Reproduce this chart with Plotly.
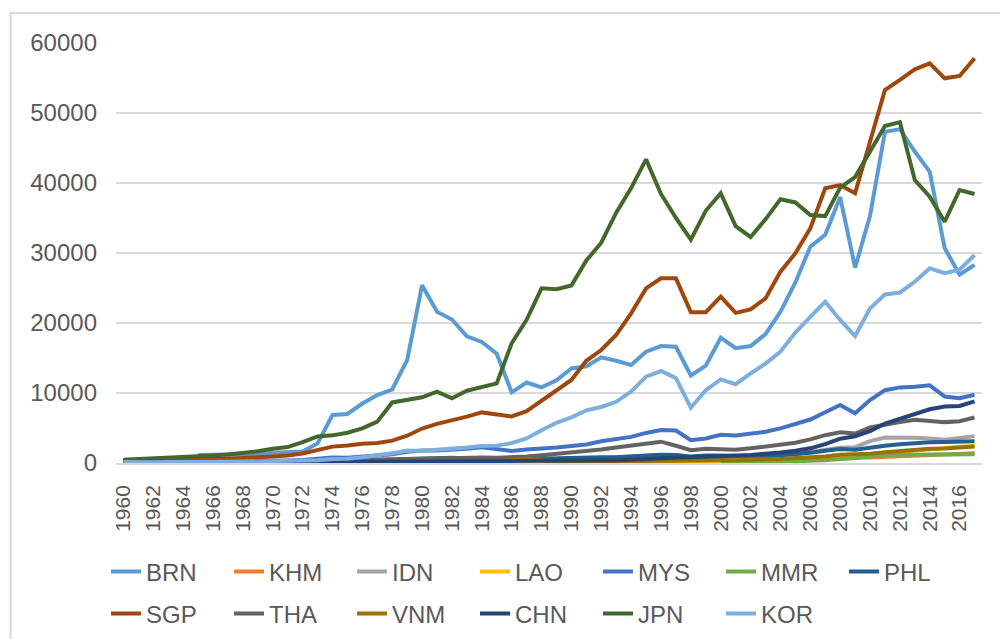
import plotly.graph_objects as go

years = [str(y) for y in range(1960, 2018)]
tick_years = [str(y) for y in range(1960, 2017, 2)]

N = None
BRN = [N, N, N, N, N, 1137, 1175, 1220, 1260, 1290,
       1470, 1630, 1650, 2800, 6860, 7000, 8500, 9700, 10500, 14700,
       25400, 21600, 20500, 18100, 17300, 15600, 10100, 11500, 10800, 11800,
       13500, 13800, 15100, 14600, 14000, 15900, 16700, 16600, 12500, 13900,
       17900, 16400, 16700, 18400, 21600, 25800, 30900, 32600, 38000, 27900,
       35300, 47300, 47700, 44500, 41600, 30700, 26900, 28300]
KHM = [111, 117, 120, 130, 129, 137, 142, 147, 155, 121,
       114, N, N, N, N, N, N, N, N, N,
       N, N, N, N, N, N, N, N, N, N,
       N, N, N, 249, 267, 321, 315, 300, 268, 296,
       301, 316, 330, 353, 400, 471, 537, 627, 744, 733,
       782, 880, 945, 1013, 1093, 1163, 1270, 1385]
IDN = [N, N, N, N, N, N, N, 54, 65, 80,
       80, 79, 91, 128, 189, 221, 258, 300, 329, 350,
       491, 568, 582, 513, 524, 517, 477, 445, 492, 554,
       585, 632, 676, 822, 906, 1026, 1137, 1063, 463, 671,
       780, 748, 900, 1065, 1150, 1263, 1590, 1861, 2167, 2262,
       3122, 3643, 3694, 3623, 3492, 3332, 3563, 3837]
LAO = [N, N, N, N, N, N, N, N, N, N,
       N, N, N, N, N, N, N, N, N, N,
       N, N, N, N, 614, 630, 400, 340, 195, 209,
       203, 233, 250, 289, 323, 370, 393, 353, 259, 282,
       325, 324, 319, 362, 416, 475, 586, 711, 893, 942,
       1141, 1374, 1582, 1825, 1998, 2134, 2308, 2424]
MYS = [235, 236, 243, 254, 265, 281, 290, 291, 297, 323,
       357, 370, 435, 662, 802, 760, 874, 1007, 1235, 1589,
       1775, 1770, 1852, 2048, 2234, 1980, 1722, 1913, 2034, 2199,
       2441, 2653, 3114, 3432, 3727, 4295, 4700, 4638, 3263, 3493,
       4044, 3914, 4165, 4461, 4952, 5587, 6210, 7243, 8290, 7100,
       9000, 10400, 10800, 10900, 11100, 9500, 9250, 9750]
MMR = [N, N, N, N, N, N, N, N, N, N,
       N, N, N, N, N, N, N, N, N, N,
       N, N, N, N, N, N, N, N, N, N,
       N, N, N, N, N, N, N, N, N, N,
       150, 140, 150, 205, 230, 250, 300, 400, 570, 680,
       980, 1150, 1170, 1180, 1230, 1160, 1200, 1250]
PHL = [257, 270, 193, 209, 219, 230, 242, 256, 269, 283,
       187, 202, 213, 270, 353, 375, 412, 462, 520, 611,
       696, 742, 757, 638, 577, 562, 540, 587, 655, 725,
       729, 726, 819, 828, 955, 1073, 1170, 1139, 925, 1054,
       1043, 964, 1016, 1031, 1104, 1244, 1453, 1744, 1991, 1893,
       2217, 2450, 2694, 2871, 2960, 3001, 3074, 3123]
SGP = [428, 449, 472, 511, 485, 516, 567, 626, 708, 812,
       925, 1071, 1352, 1894, 2341, 2490, 2747, 2846, 3194, 3901,
       4928, 5596, 6078, 6633, 7228, 6900, 6650, 7400, 8917, 10394,
       11862, 14600, 16140, 18290, 21380, 24950, 26380, 26380, 21550, 21550,
       23760, 21450, 21950, 23520, 27330, 29950, 33520, 39240, 39710, 38520,
       45670, 53290, 54720, 56240, 57100, 54950, 55290, 57800]
THA = [101, 109, 116, 122, 131, 141, 163, 173, 182, 195,
       196, 199, 218, 276, 336, 353, 393, 445, 528, 597,
       683, 718, 731, 780, 787, 735, 805, 923, 1111, 1283,
       1508, 1717, 1927, 2209, 2491, 2846, 3044, 2467, 1834, 2033,
       2008, 1891, 2096, 2359, 2660, 2894, 3370, 3974, 4385, 4213,
       5075, 5492, 5861, 6168, 5952, 5840, 5979, 6500]
VNM = [N, N, N, N, N, N, N, N, N, N,
       N, N, N, N, N, N, N, N, N, N,
       N, N, N, N, N, 231, 422, 581, 395, 94,
       95, 98, 141, 181, 221, 288, 337, 361, 361, 374,
       394, 410, 440, 489, 554, 699, 797, 919, 1165, 1232,
       1334, 1543, 1755, 1907, 2052, 2085, 2192, 2366]
CHN = [90, 76, 70, 74, 85, 98, 104, 96, 91, 100,
       113, 119, 132, 157, 160, 178, 165, 185, 156, 183,
       195, 197, 203, 225, 251, 294, 282, 252, 284, 311,
       318, 333, 366, 377, 473, 610, 709, 782, 829, 873,
       959, 1053, 1149, 1289, 1509, 1753, 2099, 2694, 3468, 3832,
       4550, 5618, 6317, 7051, 7679, 8067, 8148, 8800]
JPN = [479, 564, 634, 718, 835, 919, 1059, 1229, 1451, 1669,
       2038, 2272, 2967, 3800, 3950, 4330, 4950, 5900, 8650, 9000,
       9380, 10190, 9250, 10330, 10900, 11380, 17100, 20450, 24950, 24813,
       25359, 28925, 31465, 35766, 39269, 43380, 38437, 35022, 31903, 36027,
       38532, 33846, 32289, 34808, 37689, 37218, 35434, 35275, 39339, 40855,
       44508, 48140, 48700, 40430, 38050, 34470, 39000, 38430]
KOR = [158, 94, 106, 146, 124, 108, 133, 161, 198, 243,
       279, 301, 324, 406, 563, 617, 834, 1055, 1405, 1783,
       1715, 1883, 1993, 2199, 2413, 2482, 2835, 3510, 4686, 5738,
       6516, 7523, 8001, 8741, 10206, 12333, 13138, 12131, 7900, 10409,
       11948, 11253, 12789, 14209, 15908, 18640, 20888, 23050, 20431, 18140,
       22087, 24080, 24359, 25890, 27811, 27105, 27608, 29710]

series_names = ["BRN", "KHM", "IDN", "LAO", "MYS", "MMR", "PHL",
                "SGP", "THA", "VNM", "CHN", "JPN", "KOR"]
series_values = [BRN, KHM, IDN, LAO, MYS, MMR, PHL,
                 SGP, THA, VNM, CHN, JPN, KOR]
colors = ["#5B9BD5", "#ED7D31", "#A5A5A5", "#FFC000", "#4472C4", "#70AD47", "#255E91",
          "#9E480E", "#636363", "#997300", "#264478", "#43682B", "#7CAFDD"]

FONT = "Liberation Sans, Arial, sans-serif"
TXT = "#595959"

fig = go.Figure()
for i, (name, vals, col) in enumerate(zip(series_names, series_values, colors)):
    fig.add_trace(go.Scatter(
        x=years, y=vals, name=name, mode="lines",
        line=dict(color=col, width=4),
        connectgaps=False,
        legend="legend" if i < 7 else "legend2",
    ))

# plot area geometry in pixels
W, H = 1000, 639
L, R, T, B = 115.5, 17.5, 43, 176
pw, ph = W - L - R, H - T - B

def px_x(p):
    return (p - L) / pw

def px_y(p):
    return (H - B - p) / ph

legend_common = dict(
    orientation="h", xanchor="left", yanchor="middle",
    xref="container", yref="container",
    font=dict(family=FONT, size=24, color=TXT),
    entrywidth=78, entrywidthmode="pixels",
    itemwidth=30, bgcolor="rgba(0,0,0,0)", borderwidth=0,
    traceorder="normal",
)

fig.update_layout(
    width=W, height=H,
    margin=dict(l=L, r=R, t=T, b=B, pad=0, autoexpand=False),
    paper_bgcolor="white", plot_bgcolor="white",
    font=dict(family=FONT, color=TXT),
    showlegend=True,
    legend=dict(x=106 / W, y=1 - 572 / H, **legend_common),
    legend2=dict(x=106 / W, y=1 - 614 / H, **legend_common),
    xaxis=dict(
        type="category", categoryorder="array", categoryarray=years,
        range=[-0.5, len(years) - 0.5],
        tickmode="array", tickvals=tick_years, ticktext=tick_years,
        tickangle=-90, tickfont=dict(family=FONT, size=21, color=TXT),
        showgrid=False, zeroline=False,
        showline=True, linecolor="#D9D9D9", linewidth=1.5,
        ticks="", ticklabelstandoff=12, automargin=False,
        fixedrange=True,
    ),
    yaxis=dict(
        range=[0, 60000], dtick=10000, tick0=0, tickformat="d",
        tickfont=dict(family=FONT, size=24, color=TXT),
        showgrid=True, gridcolor="#D9D9D9", gridwidth=1.5,
        zeroline=False, showline=False, ticks="",
        ticklabelstandoff=18, automargin=False,
        fixedrange=True,
    ),
    shapes=[dict(
        type="rect", xref="paper", yref="paper",
        x0=px_x(10), x1=px_x(1015), y0=px_y(660), y1=px_y(13),
        line=dict(color="#D9D9D9", width=2), fillcolor="rgba(0,0,0,0)",
        layer="below",
    )],
)

fig.write_html(
    "out.html",
    config={"displayModeBar": False},
    post_script="document.body.style.margin='0';document.body.style.padding='0';",
)
